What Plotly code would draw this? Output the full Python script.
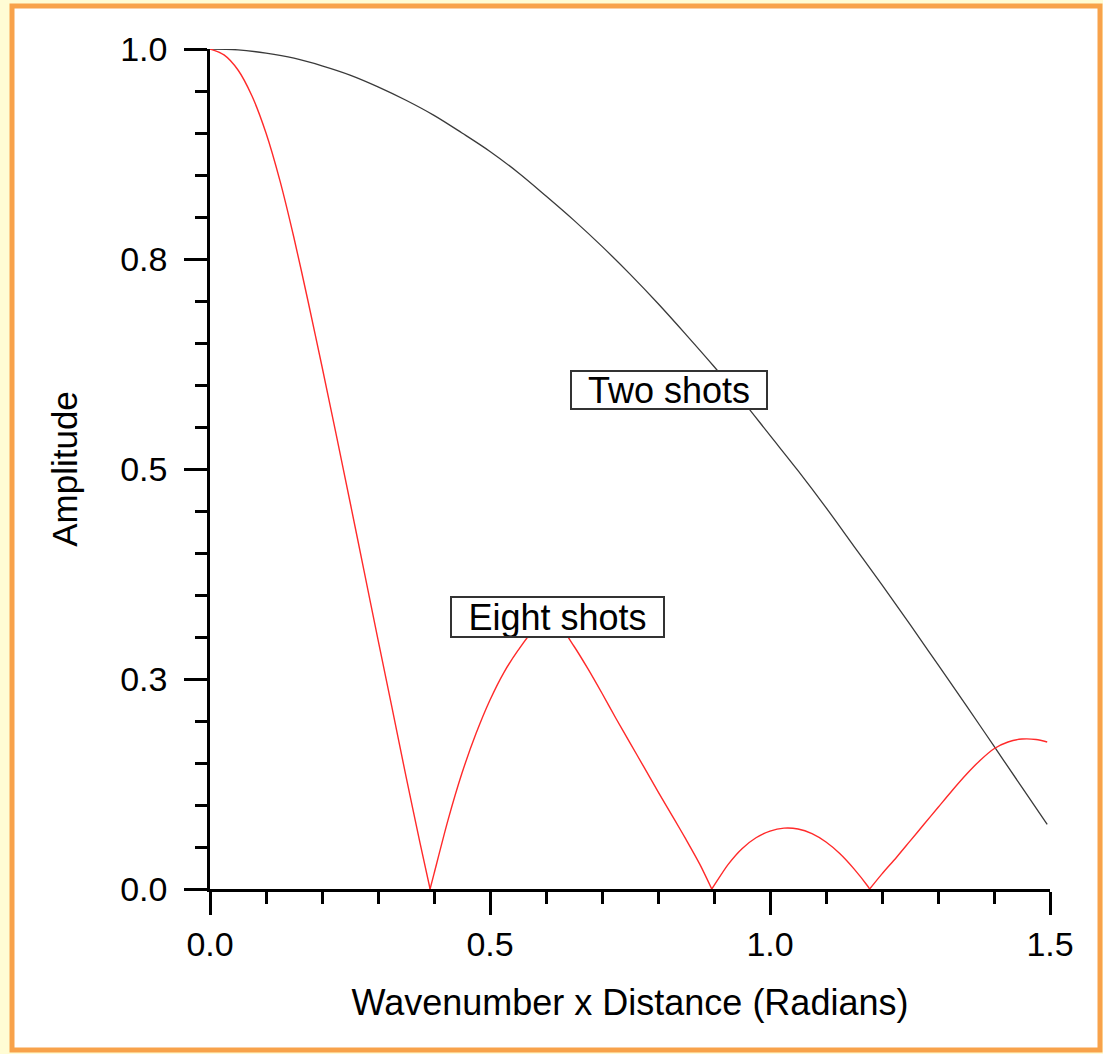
import plotly.graph_objects as go

# ---- data ----
two_x = [0.00, 0.05, 0.10, 0.15, 0.20, 0.25, 0.30, 0.35, 0.40, 0.45, 0.50, 0.55,
         0.60, 0.65, 0.70, 0.75, 0.80, 0.85, 0.90, 0.95, 1.00, 1.05, 1.10, 1.15,
         1.20, 1.25, 1.30, 1.35, 1.40, 1.45, 1.495]
two_y = [1.000, 0.999, 0.995, 0.989, 0.980, 0.969, 0.955, 0.939, 0.921, 0.900, 0.878, 0.853,
         0.825, 0.796, 0.765, 0.732, 0.697, 0.660, 0.622, 0.582, 0.540, 0.498, 0.454, 0.408,
         0.362, 0.315, 0.267, 0.219, 0.170, 0.121, 0.077]

# eight-shot response, one list per lobe (cusps at the zeros)
lobe1_x = [0.000, 0.025, 0.050, 0.075, 0.100, 0.125, 0.150, 0.175, 0.200, 0.225, 0.250,
           0.275, 0.300, 0.325, 0.350, 0.375, 0.393]
lobe1_y = [1.000, 0.993, 0.975, 0.944, 0.900, 0.843, 0.775, 0.700, 0.622, 0.542, 0.461,
           0.379, 0.297, 0.216, 0.134, 0.055, 0.000]
lobe2_x = [0.393, 0.400, 0.425, 0.450, 0.475, 0.500, 0.525, 0.550, 0.575, 0.600, 0.625, 0.650,
           0.675, 0.700, 0.725, 0.750, 0.775, 0.800, 0.830, 0.850, 0.875, 0.896]
lobe2_y = [0.000, 0.018, 0.082, 0.138, 0.185, 0.225, 0.258, 0.284, 0.306, 0.318, 0.312, 0.289,
           0.262, 0.233, 0.203, 0.174, 0.145, 0.116, 0.082, 0.059, 0.029, 0.000]
lobe3_x = [0.896, 0.900, 0.925, 0.950, 0.975, 1.000, 1.025, 1.050, 1.075, 1.100, 1.125, 1.150,
           1.175, 1.178]
lobe3_y = [0.000, 0.004, 0.029, 0.048, 0.061, 0.069, 0.0725, 0.0715, 0.066, 0.056, 0.042, 0.024,
           0.003, 0.000]
lobe4_x = [1.178, 1.200, 1.225, 1.250, 1.275, 1.300, 1.325, 1.350, 1.375, 1.400, 1.425, 1.450,
           1.475, 1.495]
lobe4_y = [0.000, 0.018, 0.037, 0.057, 0.077, 0.097, 0.117, 0.136, 0.153, 0.167, 0.175, 0.1785,
           0.178, 0.175]

x_tickvals = [0.0, 0.5, 1.0, 1.5]
x_ticktext = ["0.0", "0.5", "1.0", "1.5"]
y_tickvals = [0.0, 0.25, 0.5, 0.75, 1.0]
y_ticktext = ["0.0", "0.3", "0.5", "0.8", "1.0"]

labels = ["Two shots", "Eight shots"]
label_x = [0.8196, 0.6205]
label_y = [0.594, 0.3238]

FONT = "Liberation Sans, Arial, Helvetica, sans-serif"

fig = go.Figure()
fig.add_trace(go.Scatter(x=two_x, y=two_y, mode="lines",
                         line=dict(color="#3a3a3a", width=1.3, shape="spline"),
                         showlegend=False, hoverinfo="skip"))
for lx, ly in [(lobe1_x, lobe1_y), (lobe2_x, lobe2_y), (lobe3_x, lobe3_y), (lobe4_x, lobe4_y)]:
    fig.add_trace(go.Scatter(x=lx, y=ly, mode="lines",
                             line=dict(color="#ff2a2a", width=1.4, shape="spline", smoothing=0.8),
                             showlegend=False, hoverinfo="skip"))

# framed background
fig.add_shape(type="rect", xref="paper", yref="paper",
              x0=(12 - 210) / 840, x1=(1100 - 210) / 840,
              y0=(889 - 1050) / 840, y1=(889 - 6) / 840,
              line=dict(color="#f8a24a", width=5), fillcolor="white", layer="below")

sizes = [(194, 36), (211, 38)]
for t, xx, yy, (w, h) in zip(labels, label_x, label_y, sizes):
    fig.add_annotation(text=t, x=xx, y=yy, xref="x", yref="y", showarrow=False,
                       font=dict(family=FONT, size=36, color="black"),
                       bgcolor="white", bordercolor="#333333", borderwidth=2, borderpad=0,
                       width=w, height=h)

axis_common = dict(showline=True, linecolor="black", linewidth=2.5, ticks="outside",
                   ticklen=23, tickwidth=2.5, tickcolor="black", showgrid=False, zeroline=False,
                   tickfont=dict(family=FONT, size=34, color="black"))

fig.update_xaxes(range=[0, 1.5], tickmode="array", tickvals=x_tickvals, ticktext=x_ticktext,
                 ticklabelstandoff=0,
                 minor=dict(tickmode="linear", tick0=0, dtick=0.1, ticks="outside", ticklen=12,
                            tickwidth=2.5, tickcolor="black"),
                 title=dict(text="Wavenumber x Distance (Radians)",
                            font=dict(family=FONT, size=36, color="black"), standoff=29),
                 **axis_common)
fig.update_yaxes(range=[0, 1], tickmode="array", tickvals=y_tickvals, ticktext=y_ticktext,
                 ticklabelstandoff=10,
                 minor=dict(tickmode="linear", tick0=0, dtick=0.05, ticks="outside", ticklen=12,
                            tickwidth=2.5, tickcolor="black"),
                 title=dict(text="Amplitude", font=dict(family=FONT, size=35, color="black"),
                            standoff=32),
                 **axis_common)

fig.update_layout(width=1103, height=1054, autosize=False,
                  margin=dict(l=210, r=53, t=49, b=165),
                  paper_bgcolor="#fffcd4", plot_bgcolor="rgba(0,0,0,0)",
                  font=dict(family=FONT, color="black"))

fig.write_html("out.html", config={"displayModeBar": False},
               post_script="document.body.style.margin='0px';document.body.style.overflow='hidden';")
